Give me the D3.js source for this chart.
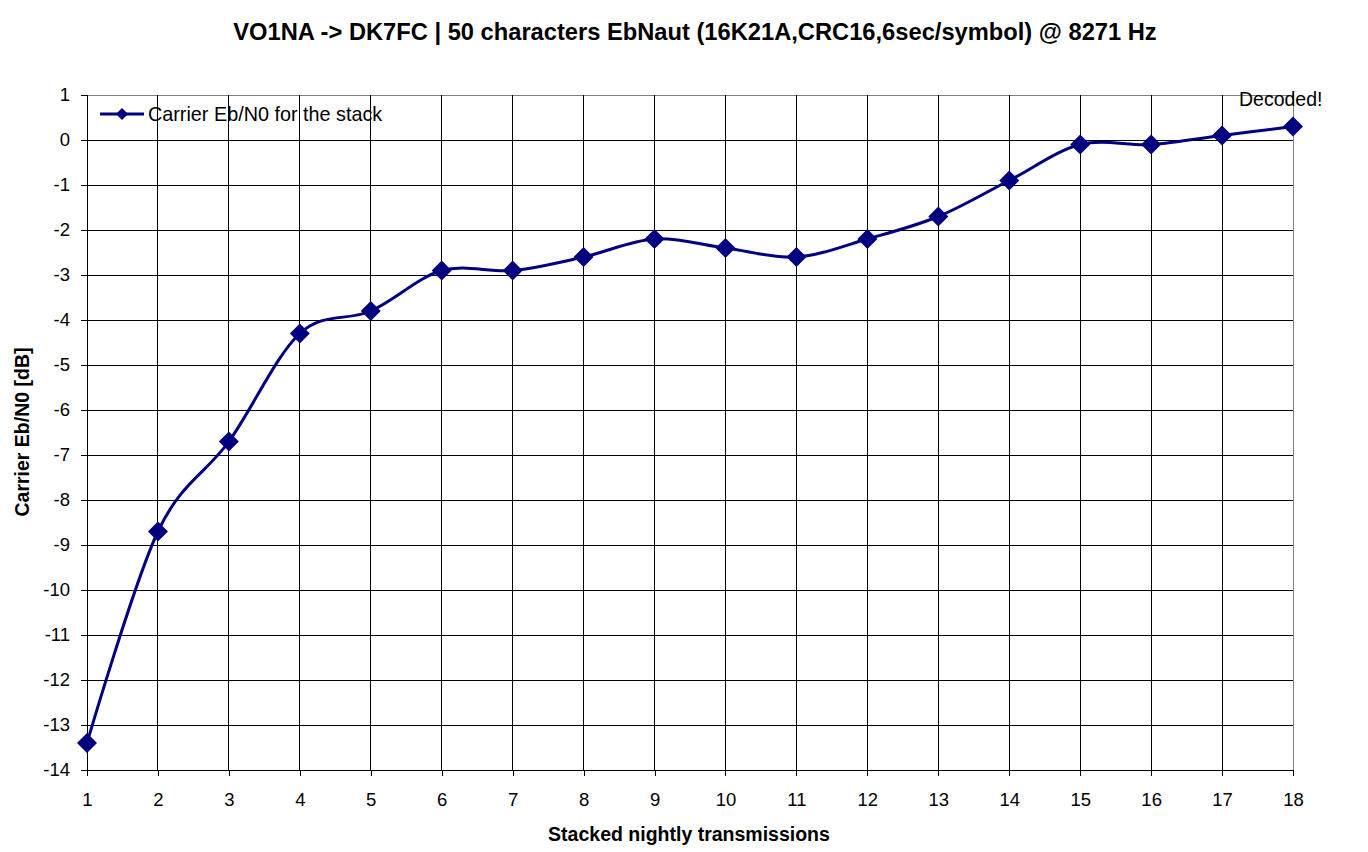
<!DOCTYPE html>
<html><head><meta charset="utf-8">
<script src="https://cdn.jsdelivr.net/npm/d3@7"></script>
<style>
html,body{margin:0;padding:0;background:#fff;}
text{font-family:"Liberation Sans",Arial,sans-serif;}
</style></head>
<body>
<svg id="chart" width="1368" height="852"></svg>
<script>
const transmissions = [1,2,3,4,5,6,7,8,9,10,11,12,13,14,15,16,17,18];
const ebn0 = [-13.4,-8.7,-6.7,-4.3,-3.8,-2.9,-2.9,-2.6,-2.2,-2.4,-2.6,-2.2,-1.7,-0.9,-0.1,-0.1,0.1,0.3];
const yTicks = [1,0,-1,-2,-3,-4,-5,-6,-7,-8,-9,-10,-11,-12,-13,-14];
const xTicks = transmissions;
const titleText = "VO1NA -> DK7FC | 50 characters EbNaut (16K21A,CRC16,6sec/symbol) @ 8271 Hz";
const seriesName = "Carrier Eb/N0 for the stack";
const xLabel = "Stacked nightly transmissions";
const yLabel = "Carrier Eb/N0 [dB]";
const annotation = "Decoded!";

const svg = d3.select("#chart");
const L=87, R=1293, T=95, B=770;
const x = d3.scaleLinear().domain([1,18]).range([L,R]);
const y = d3.scaleLinear().domain([-14,1]).range([B,T]);
const navy = "#000080";
const FONT = "'Liberation Sans',Arial,sans-serif";

// gridlines
svg.append("g").selectAll("line").data(yTicks).join("line")
  .attr("x1",L).attr("x2",R).attr("y1",d=>y(d)).attr("y2",d=>y(d))
  .attr("stroke",d=>d===1?"#808080":"#000").attr("stroke-width",1).attr("shape-rendering","crispEdges");
svg.append("g").selectAll("line").data(xTicks).join("line")
  .attr("x1",d=>x(d)).attr("x2",d=>x(d)).attr("y1",T).attr("y2",B)
  .attr("stroke",d=>d===18?"#808080":"#000").attr("stroke-width",1).attr("shape-rendering","crispEdges");

// axes
const fmt = d => String(d);
const yAxis = d3.axisLeft(y).tickValues(yTicks).tickSize(6).tickPadding(11).tickFormat(fmt);
const gy = svg.append("g").attr("transform",`translate(${L},0)`).call(yAxis);
const xAxis = d3.axisBottom(x).tickValues(xTicks).tickSize(6).tickPadding(17).tickFormat(fmt);
const gx = svg.append("g").attr("transform",`translate(0,${B})`).call(xAxis);
[gx,gy].forEach(g=>{
  g.select(".domain").attr("stroke","#000").attr("shape-rendering","crispEdges");
  g.selectAll(".tick line").attr("stroke","#000").attr("shape-rendering","crispEdges");
  g.selectAll(".tick text").attr("font-size",18.5).attr("fill","#000").attr("font-family",FONT);
});
gy.select(".domain").attr("d",`M-6,${T}H0V${B}H-6`);
gx.select(".domain").attr("d",`M${L},6V0H${R}V6`);

// line
const pts = transmissions.map((t,i)=>[t,ebn0[i]]);
const line = d3.line().x(d=>x(d[0])).y(d=>y(d[1])).curve(d3.curveCatmullRom.alpha(0));
svg.append("path").datum(pts).attr("d",line).attr("fill","none").attr("stroke",navy).attr("stroke-width",3);

const diamond = (cx,cy,r)=>`M${cx},${cy-r}L${cx+r},${cy}L${cx},${cy+r}L${cx-r},${cy}Z`;
svg.append("g").selectAll("path").data(pts).join("path")
  .attr("d",d=>diamond(x(d[0]),y(d[1]),10)).attr("fill",navy);

// legend
svg.append("line").attr("x1",100).attr("x2",144).attr("y1",114).attr("y2",114).attr("stroke",navy).attr("stroke-width",3);
svg.append("path").attr("d",diamond(122,114,6)).attr("fill",navy);
svg.append("text").attr("x",148).attr("y",121).attr("font-size",19.8).text(seriesName);

// annotation
svg.append("text").attr("x",1239).attr("y",106).attr("font-size",19.5).text(annotation);

// titles
svg.append("text").attr("x",695).attr("y",40).attr("text-anchor","middle").attr("font-size",23.7).attr("font-weight","bold").text(titleText);
svg.append("text").attr("x",689).attr("y",841).attr("text-anchor","middle").attr("font-size",19.5).attr("font-weight","bold").text(xLabel);
svg.append("text").attr("transform",`translate(29,432) rotate(-90)`).attr("text-anchor","middle").attr("font-size",19.5).attr("font-weight","bold").text(yLabel);
</script>
</body></html>
